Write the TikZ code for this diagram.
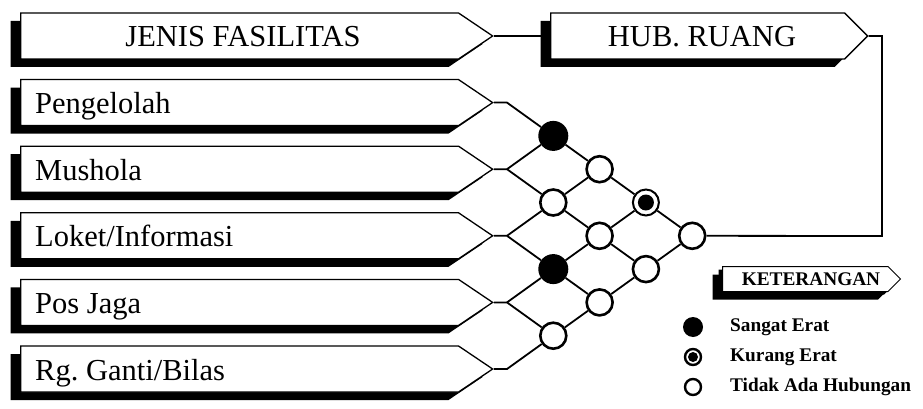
\documentclass[tikz,border=0pt]{standalone}
\usepackage{fontspec}
\setmainfont{Liberation Serif}
\usetikzlibrary{shapes.symbols,shadows}
\begin{document}
\begin{tikzpicture}[x=1pt,y=-1pt,
  facbox/.style={signal, signal to=east, signal pointer angle=68, draw, line width=1.3pt,
    fill=white, minimum width=472pt, minimum height=46pt, inner sep=0pt, anchor=west,
    drop shadow={shadow xshift=-10pt, shadow yshift=-8pt, fill=black, opacity=1}},
  hubbox/.style={facbox, signal pointer angle=90, minimum width=317pt},
  keybox/.style={facbox, signal pointer angle=90, minimum width=178pt, minimum height=25pt,
    line width=1pt, drop shadow={shadow xshift=-4pt, shadow yshift=-3pt, fill=black, opacity=1}},
  boxtext/.style={font=\fontsize{30.5}{30.5}\selectfont, inner sep=0pt},
  keytext/.style={font=\bfseries\fontsize{19.3}{19.3}\selectfont, inner sep=0pt},
  link/.style={line width=1.8pt},
  relA/.style={circle, fill=black, minimum size=30pt, inner sep=0pt},
  relC/.style={circle, draw, fill=white, line width=2.6pt, minimum size=26pt, inner sep=0pt},
  relB/.style={relC, line width=2pt, path picture={\fill[black] (path picture bounding box.center) circle (8pt);}},
  keyA/.style={circle, fill=black, minimum size=20pt, inner sep=0pt},
  keyC/.style={circle, draw, fill=white, line width=2.4pt, minimum size=16pt, inner sep=0pt},
  keyB/.style={keyC, path picture={\fill[black] (path picture bounding box.center) circle (5pt);}}
]
\useasboundingbox (0,0) rectangle (923,409);

% headers
\node[facbox] (jenis) at (20,36) {};
\node[boxtext, anchor=base] (jenist) at (243,47) {JENIS FASILITAS};
\node[hubbox] (hub) at (550,36) {};
\node[boxtext, anchor=base] (hubt) at (702,47) {HUB. RUANG};

% facility rows
\foreach \n/\t in {1/{Pengelolah}, 2/{Mushola}, 3/{Loket/Informasi}, 4/{Pos Jaga}, 5/{Rg.\ Ganti/Bilas}}{
  \node[facbox] (r\n) at (20,{36+66.6*\n}) {};
  \node[boxtext, anchor=base west] (t\n) at (35,{47+66.6*\n}) {\t};
  \coordinate (j\n) at (507,{36+66.6*\n});
}

% relationship matrix
\foreach \i/\j/\s in {1/2/relA, 1/3/relC, 1/4/relB, 1/5/relC, 2/3/relC,
                      2/4/relC, 2/5/relC, 3/4/relA, 3/5/relC, 4/5/relC}
  \node[\s] (c\i\j) at ({507+46.3*(\j-\i)},{36+33.3*(\i+\j)}) {};

\draw[link] (r1.east) -- (j1) -- (c12) -- (c13) -- (c14) -- (c15);
\draw[link] (r2.east) -- (j2) -- (c23) -- (c24) -- (c25);
\draw[link] (j2) -- (c12);
\draw[link] (r3.east) -- (j3) -- (c34) -- (c35);
\draw[link] (j3) -- (c23) -- (c13);
\draw[link] (r4.east) -- (j4) -- (c45);
\draw[link] (j4) -- (c34) -- (c24) -- (c14);
\draw[link] (r5.east) -- (j5) -- (c45) -- (c35) -- (c25) -- (c15);

% links to the relationship header
\draw[link] (jenis.east) -- (hub.west);
\coordinate (bend) at (882,236);
\draw[link] (c15) -- (bend) |- (hub.east);

% legend
\node[keybox] (ket) at (722,279) {};
\node[keytext] (kett) at (811,279) {KETERANGAN};
\node[keyA] (k1) at (693,327) {};
\node[keytext, anchor=west] (k1t) at (730,327) {Sangat Erat};
\node[keyB] (k2) at (693,357) {};
\node[keytext, anchor=west] (k2t) at (730,357) {Kurang Erat};
\node[keyC] (k3) at (693,387) {};
\node[keytext, anchor=west] (k3t) at (730,387) {Tidak Ada Hubungan};
\end{tikzpicture}
\end{document}
